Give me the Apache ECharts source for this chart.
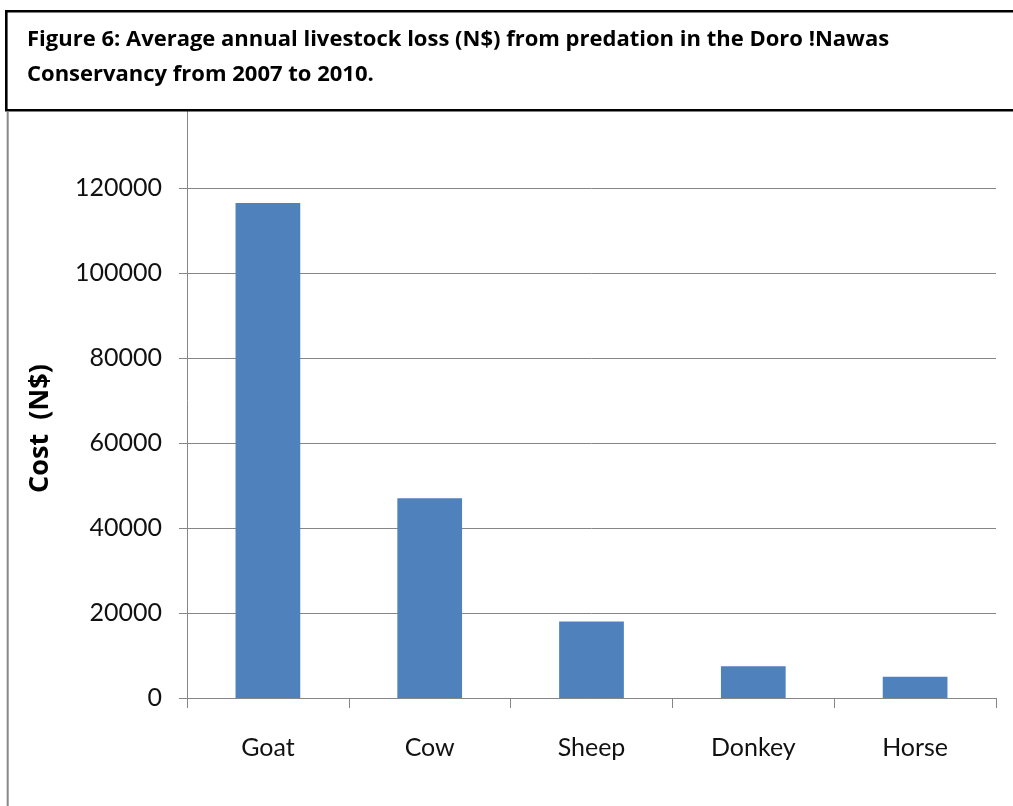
<!DOCTYPE html>
<html>
<head>
<meta charset="utf-8">
<script src="https://cdn.jsdelivr.net/npm/echarts@6/dist/echarts.min.js"></script>
<style>
  html, body { margin: 0; padding: 0; background: #ffffff; }
  #chart { width: 1013px; height: 806px; }
</style>
</head>
<body>
<div id="chart"></div>
<script>
// Livestock categories and average annual loss in N$
const categories = ['Goat', 'Cow', 'Sheep', 'Donkey', 'Horse'];
const lossValues = [116500, 47000, 18000, 7500, 5000];

const titleLine1 = 'Figure 6: Average annual livestock loss (N$) from predation in the Doro !Nawas';
const titleLine2 = 'Conservancy from 2007 to 2010.';
const yAxisTitle = 'Cost  (N$)';

const FONT = 'Lato, "Open Sans", sans-serif';
const BOLD_FONT = '"Open Sans", Lato, sans-serif';
const AXIS_GREY = '#868686';

const chart = echarts.init(document.getElementById('chart'), null, { renderer: 'canvas' });

chart.setOption({
  backgroundColor: '#ffffff',
  animation: false,
  grid: { left: 187, right: 17, top: 103, bottom: 108, containLabel: false },
  xAxis: {
    type: 'category',
    data: categories,
    axisLine: { show: true, lineStyle: { color: AXIS_GREY, width: 1 } },
    axisTick: { show: true, length: 10, alignWithLabel: false, lineStyle: { color: AXIS_GREY } },
    axisLabel: { margin: 37, color: '#111', fontFamily: FONT, fontSize: 25 },
    splitLine: { show: false }
  },
  yAxis: {
    type: 'value',
    min: 0,
    max: 140000,
    interval: 20000,
    axisLine: { show: true, lineStyle: { color: AXIS_GREY, width: 1 } },
    axisTick: { show: true, length: 8, lineStyle: { color: AXIS_GREY } },
    axisLabel: {
      margin: 25, color: '#111', fontFamily: FONT, fontSize: 25, showMaxLabel: false,
      formatter: (v) => String(v)
    },
    splitLine: { show: true, lineStyle: { color: AXIS_GREY, width: 1 } }
  },
  series: [{
    type: 'bar',
    data: lossValues,
    barWidth: '40%',
    itemStyle: { color: '#4F81BD' }
  }],
  graphic: [
    // caption box across the top
    {
      type: 'rect', z: 100,
      shape: { x: 6.3, y: 11.3, width: 1100, height: 99 },
      style: { fill: '#ffffff', stroke: '#000000', lineWidth: 2.6 }
    },
    {
      type: 'text', z: 101, left: 27, top: 28.5,
      style: { text: titleLine1, font: 'bold 22px ' + BOLD_FONT, fill: '#000000' }
    },
    {
      type: 'text', z: 101, left: 27, top: 64,
      style: { text: titleLine2, font: 'bold 22px ' + BOLD_FONT, fill: '#000000' }
    },
    // left page rule
    {
      type: 'line', z: 100,
      shape: { x1: 7.7, y1: 112, x2: 7.7, y2: 806 },
      style: { stroke: '#888888', lineWidth: 2 }
    },
    // rotated y-axis title
    {
      type: 'text', z: 101,
      x: 40, y: 428.5, rotation: Math.PI / 2,
      style: { text: yAxisTitle, font: 'bold 27px ' + BOLD_FONT, fill: '#000000', align: 'center', verticalAlign: 'middle' }
    }
  ]
});
</script>
</body>
</html>
